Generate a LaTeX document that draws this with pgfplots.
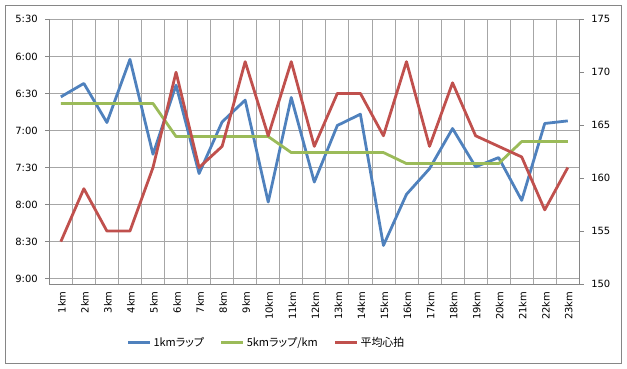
\documentclass[border=0pt]{standalone}
\usepackage{pgfplots}
\pgfplotsset{compat=1.18}
\usepackage{fontspec}
\setmainfont{DejaVu Sans}
\newfontfamily\jp[RawFeature=+palt]{Noto Sans CJK JP}
\definecolor{cblue}{HTML}{4F81BD}
\definecolor{cgreen}{HTML}{9BBB59}
\definecolor{cred}{HTML}{C0504D}
\definecolor{gridc}{HTML}{A6A6A6}
\definecolor{axisc}{HTML}{868686}
\begin{document}
\begin{tikzpicture}
\path[use as bounding box] (0bp,0bp) rectangle (627bp,369bp);
\draw[axisc, line width=0.8bp] (5.2bp,5.7bp) rectangle (621.5bp,363.8bp);
\begin{axis}[
  at={(49.3bp,85bp)}, anchor=south west, scale only axis,
  width=530bp, height=264.7bp,
  xmin=0.5, xmax=23.5,
  ymin=5.5, ymax=9.07, y dir=reverse,
  xtick={1,...,23},
  xticklabels={1km,2km,3km,4km,5km,6km,7km,8km,9km,10km,11km,12km,13km,14km,15km,16km,17km,18km,19km,20km,21km,22km,23km},
  xticklabel style={rotate=90, anchor=east, font=\fontsize{10}{12}\selectfont, yshift=-1bp},
  xtick style={draw=none},
  minor xtick={0.5,1.5,...,23.5},
  xminorgrids=true,
  minor x tick style={draw=none},
  ytick={5.5,6,6.5,7,7.5,8,8.5,9},
  yticklabels={5:30,6:00,6:30,7:00,7:30,8:00,8:30,9:00},
  yticklabel style={font=\fontsize{10}{12}\selectfont, xshift=-4bp},
  ymajorgrids=true,
  ytick pos=left,
  tick align=outside,
  major tick length=4bp,
  y tick style={axisc, line width=0.8bp},
  grid style={gridc, line width=0.8bp},
  minor grid style={gridc, line width=0.8bp},
  axis line style={axisc, line width=0.8bp},
  axis x line*=bottom, axis y line*=left,
  legend style={at={(0.41,-0.221)}, anchor=center, draw=none, fill=none,
    legend columns=3, font=\jp\fontsize{11}{12}\selectfont,
    /tikz/every even column/.append style={column sep=14bp},
    inner sep=0pt},
  legend image code/.code={\draw[#1] (0bp,0bp)--(22bp,0bp);},
  every axis plot/.append style={line width=2.8bp, line join=round, mark=none},
]
\addplot[cblue] coordinates {
(1,6.546) (2,6.365) (3,6.892) (4,6.04) (5,7.32) (6,6.388) (7,7.58) (8,6.884)
(9,6.59) (10,7.965) (11,6.554) (12,7.695) (13,6.932) (14,6.78) (15,8.55)
(16,7.861) (17,7.514) (18,6.973) (19,7.49) (20,7.365) (21,7.942) (22,6.905) (23,6.87)};
\addlegendentry{1kmラップ}
\addplot[cgreen] coordinates {
(1,6.635) (2,6.635) (3,6.635) (4,6.635) (5,6.635)
(6,7.081) (7,7.081) (8,7.081) (9,7.081) (10,7.081)
(11,7.297) (12,7.297) (13,7.297) (14,7.297) (15,7.297)
(16,7.446) (17,7.446) (18,7.446) (19,7.446) (20,7.446)
(21,7.149) (22,7.149) (23,7.149)};
\addlegendentry{5kmラップ/km}
\addlegendimage{cred, line width=2.8bp}
\addlegendentry{平均心拍}
\end{axis}
\begin{axis}[
  at={(49.3bp,85bp)}, anchor=south west, scale only axis,
  width=530bp, height=264.7bp,
  xmin=0.5, xmax=23.5,
  ymin=150, ymax=175,
  ytick={150,155,...,175},
  axis x line=none,
  axis y line*=right,
  tick align=outside,
  major tick length=4.5bp,
  y tick style={axisc, line width=0.8bp},
  axis line style={axisc, line width=0.8bp},
  yticklabel style={font=\fontsize{10}{12}\selectfont, xshift=4bp},
  /pgf/number format/assume math mode=true,
]
\addplot[cred, line width=2.8bp, line join=round, mark=none] coordinates {
(1,154) (2,159) (3,155) (4,155) (5,161) (6,170) (7,161) (8,163) (9,171) (10,164)
(11,171) (12,163) (13,168) (14,168) (15,164) (16,171) (17,163) (18,169) (19,164)
(20,163) (21,162) (22,157) (23,161)};
\end{axis}
\end{tikzpicture}
\end{document}
